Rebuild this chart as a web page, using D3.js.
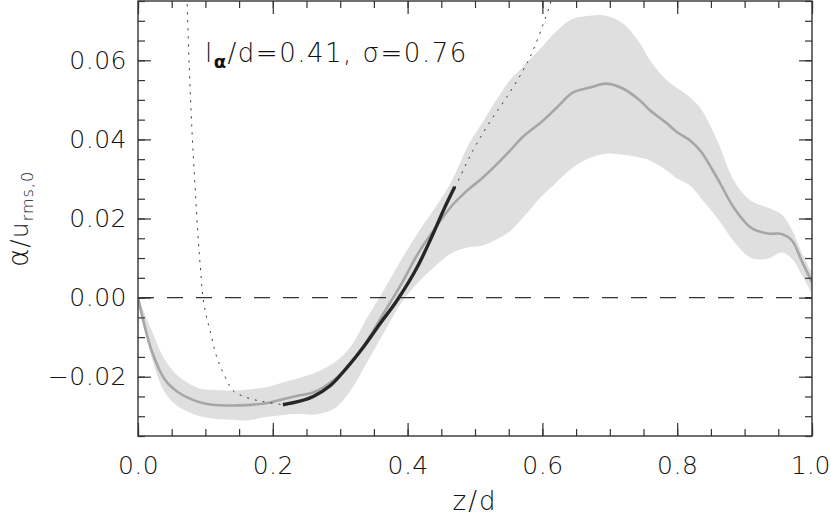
<!DOCTYPE html>
<html>
<head>
<meta charset="utf-8">
<script src="https://cdn.jsdelivr.net/npm/d3@7"></script>
<style>
  body { margin: 0; background: #fff; }
  svg text { font-family: "DejaVu Sans", sans-serif; font-weight: 200; fill: #111; }
</style>
</head>
<body>
<div id="chart"></div>
<script>
// profile of alpha vs depth, mean with +/- band and fit
var zGrid = [0, 0.02, 0.04, 0.06, 0.09, 0.11, 0.14, 0.16, 0.19, 0.21, 0.24, 0.26, 0.29, 0.315, 0.34,
    0.365, 0.39, 0.415, 0.44, 0.465, 0.49, 0.51, 0.55, 0.57, 0.6, 0.62, 0.645, 0.67, 0.695, 0.72,
    0.745, 0.76, 0.785, 0.8, 0.82, 0.835, 0.86, 0.885, 0.91, 0.935, 0.955, 0.97, 0.985, 1.0];
var alphaMean = [0, -0.0133, -0.0208, -0.0240, -0.0264, -0.0271, -0.0273, -0.0272, -0.0267, -0.0259,
    -0.0247, -0.0240, -0.0209, -0.0167, -0.0109, -0.0038, 0.0032, 0.0110, 0.0173, 0.0231, 0.0273,
    0.0301, 0.0368, 0.0405, 0.0446, 0.0478, 0.0518, 0.0531, 0.0541, 0.0528, 0.0498, 0.0473, 0.0440,
    0.0418, 0.0396, 0.0370, 0.0300, 0.0225, 0.0176, 0.0162, 0.0161, 0.0145, 0.0092, 0.0038];
var alphaUpper = [0, -0.0082, -0.0158, -0.0199, -0.0229, -0.0233, -0.0235, -0.0233, -0.0227, -0.0217,
    -0.0203, -0.0192, -0.0166, -0.0125, -0.0051, 0.0020, 0.0094, 0.0163, 0.0225, 0.0293, 0.0385,
    0.0440, 0.0546, 0.0582, 0.0635, 0.0672, 0.0705, 0.0713, 0.0713, 0.0693, 0.0642, 0.0599, 0.0549,
    0.0530, 0.0505, 0.0478, 0.0395, 0.0293, 0.0244, 0.0227, 0.0210, 0.0172, 0.0113, 0.0061];
var alphaLower = [0, -0.0150, -0.0240, -0.0276, -0.0299, -0.0306, -0.0309, -0.0311, -0.0302, -0.0298,
    -0.0294, -0.0296, -0.0282, -0.0236, -0.0163, -0.0088, -0.0015, 0.0037, 0.0078, 0.0112, 0.0127,
    0.0131, 0.0165, 0.0200, 0.0258, 0.0290, 0.0329, 0.0353, 0.0364, 0.0361, 0.0354, 0.0346, 0.0321,
    0.0301, 0.0282, 0.0252, 0.0200, 0.0140, 0.0100, 0.0099, 0.0114, 0.0099, 0.0057, 0.0010];

// fitted part (solid dark)
var fitZ = [0.215, 0.24, 0.26, 0.285, 0.31, 0.334, 0.359, 0.384, 0.414, 0.438, 0.453, 0.470];
var fitVal = [-0.0271, -0.0262, -0.0250, -0.0223, -0.0177, -0.0126, -0.0066, -0.0008, 0.0076, 0.0162, 0.0220, 0.0280];

// extrapolation of fit (dotted), both sides
var extLeftZ = [0.0712, 0.0727, 0.0757, 0.0801, 0.0846, 0.0890, 0.0935, 0.0964, 0.1009, 0.1068,
    0.1172, 0.1320, 0.1409, 0.1617, 0.1855, 0.2151];
var extLeftVal = [0.0802, 0.0751, 0.0599, 0.0422, 0.0283, 0.0157, 0.0056, 0.0, -0.0043, -0.0083,
    -0.0152, -0.0210, -0.0235, -0.0253, -0.0263, -0.0271];
var extRightZ = [0.4703, 0.4970, 0.5223, 0.5475, 0.5712, 0.5861, 0.6009, 0.6113, 0.6157];
var extRightVal = [0.0278, 0.0372, 0.0445, 0.0508, 0.0574, 0.0625, 0.0690, 0.0741, 0.0771];

var xMajor = [0, 0.2, 0.4, 0.6, 0.8, 1.0];
var yMajor = [-0.02, 0.0, 0.02, 0.04, 0.06];

var W = 831, H = 516;
var margin = { top: 1, right: 19, bottom: 80, left: 138 };
var width = W - margin.left - margin.right;
var height = H - margin.top - margin.bottom;

var svg = d3.select("#chart").append("svg")
    .attr("width", W)
    .attr("height", H)
    .append("g")
    .attr("transform", "translate(" + margin.left + "," + margin.top + ")");

var x = d3.scaleLinear().domain([0, 1]).range([0, width]);
var y = d3.scaleLinear().domain([-0.035, 0.075]).range([height, 0]);

svg.append("clipPath").attr("id", "clip")
    .append("rect").attr("width", width).attr("height", height);

var plot = svg.append("g").attr("clip-path", "url(#clip)");

var rows = zGrid.map(function (z, i) {
    return { z: z, m: alphaMean[i], hi: alphaUpper[i], lo: alphaLower[i] };
});

var curve = d3.curveCatmullRom.alpha(0.5);

// shaded band
plot.append("path")
    .datum(rows)
    .attr("fill", "#dfdfdf")
    .attr("d", d3.area().curve(curve)
        .x(function (d) { return x(d.z); })
        .y0(function (d) { return y(d.lo); })
        .y1(function (d) { return y(d.hi); }));

// zero line
plot.append("line")
    .attr("x1", 0).attr("x2", width)
    .attr("y1", y(0)).attr("y2", y(0))
    .attr("stroke", "#333")
    .attr("stroke-width", 1.2)
    .attr("stroke-dasharray", "16,13");

var line = d3.line().curve(curve)
    .x(function (d) { return x(d[0]); })
    .y(function (d) { return y(d[1]); });

// mean curve
plot.append("path")
    .datum(rows.map(function (d) { return [d.z, d.m]; }))
    .attr("fill", "none")
    .attr("stroke", "#a6a6a6")
    .attr("stroke-width", 2.6)
    .attr("d", line);

// dotted extrapolations
[[extLeftZ, extLeftVal], [extRightZ, extRightVal]].forEach(function (s) {
    plot.append("path")
        .datum(s[0].map(function (z, i) { return [z, s[1][i]]; }))
        .attr("fill", "none")
        .attr("stroke", "#333")
        .attr("stroke-width", 1)
        .attr("stroke-dasharray", "2,6")
        .attr("d", line);
});

// fit
plot.append("path")
    .datum(fitZ.map(function (z, i) { return [z, fitVal[i]]; }))
    .attr("fill", "none")
    .attr("stroke", "#262626")
    .attr("stroke-width", 3.4)
    .attr("d", line);

// axes: ticks pointing inward on all sides
function styleAxis(g) {
    g.select(".domain").remove();
    g.selectAll(".tick line").attr("stroke", "#333").attr("stroke-width", 1.2);
    g.selectAll("text").attr("font-size", 25).attr("fill", "#111").attr("letter-spacing", 0.5);
}
var xMinor = d3.range(0, 1.0001, 0.05);
var yMinor = d3.range(-0.035, 0.0751, 0.005);

svg.append("g").attr("transform", "translate(0," + height + ")")
    .call(d3.axisBottom(x).tickValues(xMinor).tickSize(-7).tickFormat(""))
    .call(styleAxis);
svg.append("g").attr("transform", "translate(0," + height + ")")
    .call(d3.axisBottom(x).tickValues(xMajor).tickSize(-13).tickPadding(20).tickFormat(d3.format(".1f")))
    .call(styleAxis);
svg.append("g")
    .call(d3.axisTop(x).tickValues(xMinor).tickSize(-7).tickFormat(""))
    .call(styleAxis);
svg.append("g")
    .call(d3.axisTop(x).tickValues(xMajor).tickSize(-13).tickFormat(""))
    .call(styleAxis);

svg.append("g")
    .call(d3.axisLeft(y).tickValues(yMinor).tickSize(-7).tickFormat(""))
    .call(styleAxis);
svg.append("g")
    .call(d3.axisLeft(y).tickValues(yMajor).tickSize(-13).tickPadding(11).tickFormat(d3.format(".2f")))
    .call(styleAxis);
svg.append("g").attr("transform", "translate(" + width + ",0)")
    .call(d3.axisRight(y).tickValues(yMinor).tickSize(-7).tickFormat(""))
    .call(styleAxis);
svg.append("g").attr("transform", "translate(" + width + ",0)")
    .call(d3.axisRight(y).tickValues(yMajor).tickSize(-13).tickFormat(""))
    .call(styleAxis);

// last x label sits right at the page edge, pull it in a touch
svg.selectAll(".tick text").filter(function (d) { return d === 1; })
    .attr("text-anchor", "end").attr("x", 18).attr("letter-spacing", 0);

// frame
svg.append("rect")
    .attr("width", width).attr("height", height)
    .attr("fill", "none")
    .attr("stroke", "#333")
    .attr("stroke-width", 1.4);

// annotation
var note = svg.append("text")
    .attr("x", 67).attr("y", 61)
    .attr("font-size", 26)
    .attr("letter-spacing", 1.5);
note.append("tspan").text("l");
note.append("tspan").attr("font-size", 18).attr("font-weight", 700).attr("dy", 6).text("α");
note.append("tspan").attr("dy", -6).text("/d=0.41,  σ=0.76");

// axis titles
svg.append("text")
    .attr("x", width / 2).attr("y", 509)
    .attr("text-anchor", "middle")
    .attr("font-size", 26)
    .attr("letter-spacing", 2)
    .text("z/d");

var yt = svg.append("text")
    .attr("transform", "translate(" + (28 - margin.left) + "," + 218 + ") rotate(-90)")
    .attr("text-anchor", "middle")
    .attr("font-size", 25)
    .attr("letter-spacing", 1);
yt.append("tspan").attr("font-size", 28).text("α");
yt.append("tspan").text("/u");
yt.append("tspan").attr("font-size", 16).attr("dy", 5).text("rms,0");
</script>
</body>
</html>
